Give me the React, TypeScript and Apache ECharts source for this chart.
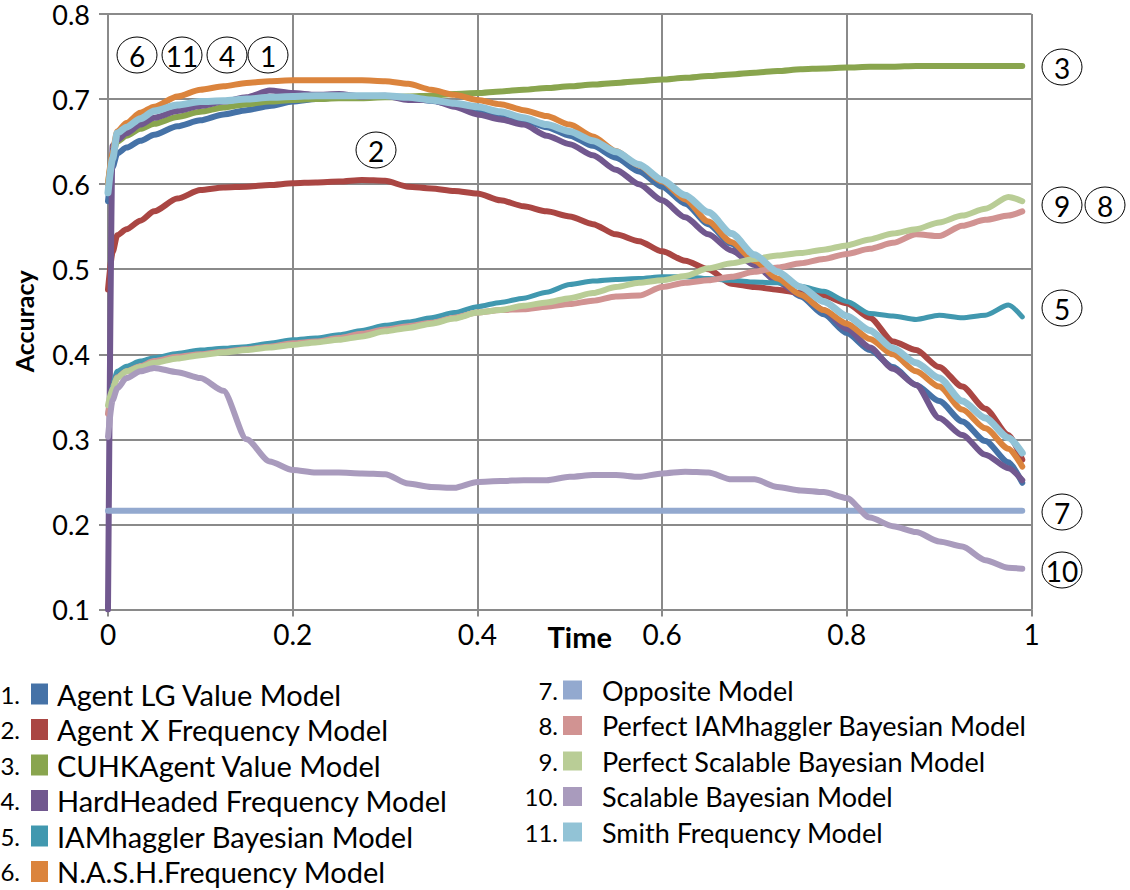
import React, { useEffect, useRef } from "react";
import * as echarts from "echarts";

// Time axis sample points (fraction of negotiation time)
const T = [0, 0.005, 0.01, 0.02, 0.035, 0.05, 0.075, 0.1, 0.125, 0.15, 0.175, 0.2, 0.225, 0.25, 0.275, 0.3, 0.325, 0.35, 0.375, 0.4, 0.425, 0.45, 0.475, 0.5, 0.525, 0.55, 0.575, 0.6, 0.625, 0.65, 0.675, 0.7, 0.725, 0.75, 0.775, 0.8, 0.825, 0.85, 0.875, 0.9, 0.925, 0.95, 0.975, 0.99];

const AGENT_LG = [0.58, 0.62, 0.636, 0.643, 0.651, 0.658, 0.668, 0.675, 0.682, 0.687, 0.692, 0.697, 0.7, 0.702, 0.703, 0.703, 0.701, 0.698, 0.693, 0.688, 0.682, 0.675, 0.667, 0.657, 0.645, 0.631, 0.615, 0.597, 0.577, 0.553, 0.53, 0.507, 0.487, 0.468, 0.447, 0.425, 0.405, 0.385, 0.364, 0.345, 0.321, 0.298, 0.273, 0.249];
const AGENT_X = [0.476, 0.52, 0.54, 0.547, 0.557, 0.568, 0.583, 0.593, 0.596, 0.597, 0.599, 0.601, 0.602, 0.603, 0.605, 0.604, 0.597, 0.595, 0.592, 0.589, 0.581, 0.574, 0.568, 0.562, 0.553, 0.541, 0.533, 0.521, 0.51, 0.5, 0.483, 0.479, 0.476, 0.472, 0.469, 0.46, 0.443, 0.415, 0.405, 0.385, 0.362, 0.336, 0.305, 0.276];
const CUHK = [0.6, 0.635, 0.65, 0.657, 0.665, 0.671, 0.679, 0.685, 0.69, 0.694, 0.697, 0.699, 0.7, 0.701, 0.701, 0.702, 0.703, 0.704, 0.706, 0.707, 0.709, 0.711, 0.713, 0.715, 0.717, 0.719, 0.721, 0.723, 0.725, 0.727, 0.729, 0.731, 0.733, 0.735, 0.736, 0.737, 0.738, 0.738, 0.739, 0.739, 0.739, 0.739, 0.739, 0.739];
const HARDHEADED = [0.1, 0.645, 0.652, 0.66, 0.67, 0.678, 0.686, 0.692, 0.697, 0.702, 0.71, 0.707, 0.705, 0.706, 0.703, 0.704, 0.699, 0.699, 0.691, 0.682, 0.676, 0.67, 0.657, 0.647, 0.634, 0.617, 0.6, 0.581, 0.561, 0.541, 0.522, 0.505, 0.485, 0.47, 0.452, 0.43, 0.408, 0.383, 0.364, 0.325, 0.305, 0.282, 0.266, 0.252];
const IAMHAGGLER = [0.33, 0.365, 0.38, 0.386, 0.392, 0.396, 0.401, 0.405, 0.407, 0.409, 0.413, 0.417, 0.419, 0.423, 0.428, 0.434, 0.438, 0.443, 0.449, 0.456, 0.461, 0.466, 0.473, 0.482, 0.486, 0.488, 0.489, 0.491, 0.491, 0.489, 0.487, 0.485, 0.484, 0.48, 0.474, 0.462, 0.448, 0.445, 0.441, 0.446, 0.443, 0.446, 0.458, 0.444];
const NASH = [0.6, 0.64, 0.662, 0.672, 0.684, 0.691, 0.703, 0.711, 0.715, 0.719, 0.721, 0.722, 0.722, 0.722, 0.722, 0.721, 0.718, 0.711, 0.705, 0.699, 0.694, 0.687, 0.68, 0.67, 0.656, 0.639, 0.622, 0.603, 0.582, 0.556, 0.532, 0.51, 0.489, 0.47, 0.452, 0.436, 0.418, 0.4, 0.38, 0.362, 0.335, 0.313, 0.289, 0.268];
const OPPOSITE_T = [0, 0.99];
const OPPOSITE = [0.216, 0.216];
const PERFECT_IAM = [0.33, 0.36, 0.373, 0.38, 0.386, 0.392, 0.397, 0.4, 0.403, 0.406, 0.409, 0.413, 0.415, 0.419, 0.424, 0.429, 0.433, 0.437, 0.443, 0.449, 0.452, 0.453, 0.456, 0.459, 0.463, 0.468, 0.469, 0.479, 0.484, 0.487, 0.491, 0.497, 0.502, 0.507, 0.512, 0.518, 0.524, 0.531, 0.541, 0.539, 0.551, 0.558, 0.563, 0.568];
const PERFECT_SCALABLE = [0.34, 0.36, 0.372, 0.38, 0.385, 0.39, 0.395, 0.399, 0.402, 0.405, 0.408, 0.411, 0.414, 0.417, 0.421, 0.427, 0.431, 0.436, 0.442, 0.449, 0.452, 0.457, 0.461, 0.466, 0.472, 0.479, 0.484, 0.487, 0.492, 0.501, 0.507, 0.512, 0.516, 0.519, 0.523, 0.528, 0.535, 0.542, 0.547, 0.555, 0.563, 0.571, 0.585, 0.58];
const SCALABLE = [0.303, 0.346, 0.36, 0.372, 0.38, 0.384, 0.379, 0.372, 0.357, 0.3, 0.274, 0.264, 0.261, 0.261, 0.26, 0.259, 0.248, 0.244, 0.243, 0.25, 0.251, 0.252, 0.252, 0.256, 0.258, 0.258, 0.256, 0.26, 0.262, 0.261, 0.253, 0.253, 0.244, 0.24, 0.238, 0.231, 0.208, 0.198, 0.191, 0.18, 0.174, 0.158, 0.149, 0.148];
const SMITH = [0.59, 0.63, 0.66, 0.667, 0.677, 0.686, 0.693, 0.697, 0.698, 0.7, 0.702, 0.703, 0.704, 0.704, 0.704, 0.704, 0.702, 0.699, 0.695, 0.691, 0.685, 0.678, 0.67, 0.662, 0.651, 0.638, 0.623, 0.605, 0.587, 0.567, 0.542, 0.517, 0.497, 0.479, 0.462, 0.445, 0.428, 0.407, 0.39, 0.372, 0.345, 0.325, 0.302, 0.284];

const NAMES = [
  "Agent LG Value Model",
  "Agent X Frequency Model",
  "CUHKAgent Value Model",
  "HardHeaded Frequency Model",
  "IAMhaggler Bayesian Model",
  "N.A.S.H.Frequency Model",
  "Opposite Model",
  "Perfect IAMhaggler Bayesian Model",
  "Perfect Scalable Bayesian Model",
  "Scalable Bayesian Model",
  "Smith Frequency Model",
];
const COLORS = ["#4572A7", "#AA4643", "#89A54E", "#71588F", "#4198AF", "#DB843D", "#93A9CF", "#D19392", "#B9CD96", "#A99BBD", "#92C3D6"];
const WIDTHS = [6, 6, 6, 6, 5, 6, 6, 6, 6, 6, 7];

const X_TICKS = [0, 0.2, 0.4, 0.6, 0.8, 1];

// circled annotation labels (number, pixel centre)
const CIRCLE_LABELS: [string, number, number][] = [
  ["6", 137, 55], ["11", 182, 55], ["4", 227, 55], ["1", 268, 55],
  ["2", 376, 150], ["3", 1062, 67], ["9", 1062, 205], ["8", 1105, 205],
  ["5", 1062, 308], ["7", 1062, 512], ["10", 1062, 570],
];

const FONT = "Lato, 'Open Sans', sans-serif";

export default function App() {
  const ref = useRef<HTMLDivElement>(null);
  useEffect(() => {
    const chart = echarts.init(ref.current!, null, { renderer: "svg" });
    const valueSets = [AGENT_LG, AGENT_X, CUHK, HARDHEADED, IAMHAGGLER, NASH, OPPOSITE, PERFECT_IAM, PERFECT_SCALABLE, SCALABLE, SMITH];
    const series = valueSets.map((vals, i) => {
      const ts = vals === OPPOSITE ? OPPOSITE_T : T;
      return {
        name: NAMES[i],
        type: "line",
        data: vals.map((v, j) => [ts[j], v]),
        showSymbol: false,
        symbol: "none",
        smooth: 0.25,
        smoothMonotone: "x",
        itemStyle: { color: COLORS[i] },
        lineStyle: { color: COLORS[i], width: WIDTHS[i], cap: "round", join: "round" },
        emphasis: { disabled: true },
      };
    });

    const gridColor = "#8a8a8a";
    const graphics: any[] = [];
    CIRCLE_LABELS.forEach(([txt, cx, cy]) => {
      graphics.push({ type: "ellipse", shape: { cx, cy, rx: 20, ry: 18 }, style: { fill: "#fff", stroke: "#000", lineWidth: 1 }, z: 100 });
      graphics.push({ type: "text", x: cx, y: cy + 1, style: { text: txt, align: "center", verticalAlign: "middle", font: `28px ${FONT}`, fill: "#000" }, z: 101 });
    });
    // legend numbering
    const leftRowY = [694, 729.5, 765, 800.5, 836, 871];
    const rightRowY = [690, 725.5, 761, 796.5, 832];
    leftRowY.forEach((y, i) => {
      graphics.push({ type: "text", x: 20, y, style: { text: `${i + 1}.`, align: "right", verticalAlign: "middle", font: `24px ${FONT}`, fill: "#000" } });
    });
    rightRowY.forEach((y, i) => {
      graphics.push({ type: "text", x: 558, y, style: { text: `${i + 7}.`, align: "right", verticalAlign: "middle", font: `24px ${FONT}`, fill: "#000" } });
    });

    const option: any = {
      animation: false,
      backgroundColor: "#fff",
      grid: { left: 108, top: 14, width: 923.5, height: 595.5, containLabel: false, outerBoundsMode: "none" },
      xAxis: {
        type: "value",
        min: 0,
        max: 1,
        interval: 0.2,
        name: "Time",
        nameLocation: "middle",
        nameGap: 12,
        nameMoveOverlap: false,
        nameTextStyle: { fontFamily: FONT, fontWeight: "bold", fontSize: 29, color: "#000", padding: [0, 0, 0, 20], verticalAlign: "top" },
        axisLine: { show: true, lineStyle: { color: gridColor, width: 2 } },
        axisTick: { show: true, length: 7, lineStyle: { color: gridColor, width: 2 } },
        axisLabel: { fontFamily: FONT, fontSize: 28, color: "#000", margin: 10, formatter: (v: number) => (X_TICKS.includes(Math.round(v * 10) / 10) ? String(Math.round(v * 10) / 10) : "") },
        splitLine: { show: true, lineStyle: { color: gridColor, width: 2 } },
      },
      yAxis: {
        type: "value",
        min: 0.1,
        max: 0.8,
        interval: 0.1,
        name: "Accuracy",
        nameLocation: "middle",
        nameGap: 72,
        nameRotate: 90,
        nameMoveOverlap: false,
        nameTextStyle: { fontFamily: FONT, fontWeight: "bold", fontSize: 25, color: "#000", padding: [0, 19, 0, 0] },
        axisLine: { show: true, lineStyle: { color: gridColor, width: 2 } },
        axisTick: { show: true, length: 9, lineStyle: { color: gridColor, width: 2 } },
        axisLabel: { fontFamily: FONT, fontSize: 27, color: "#000", margin: 18, lineHeight: 16, padding: [9, 0, 0, 0], formatter: (v: number) => (Math.round(v * 10) / 10).toFixed(1) },
        splitLine: { show: true, lineStyle: { color: gridColor, width: 2 } },
      },
      legend: [
        {
          data: NAMES.slice(0, 6),
          orient: "vertical",
          left: 31,
          top: 679,
          padding: 0,
          icon: "rect",
          itemWidth: 17,
          itemHeight: 21,
          itemGap: 5.5,
          selectedMode: false,
          textStyle: { fontFamily: FONT, fontSize: 29, color: "#000", lineHeight: 30, padding: [0, 0, 0, 4] },
        },
        {
          data: NAMES.slice(6),
          orient: "vertical",
          left: 563,
          top: 675,
          padding: 0,
          icon: "rect",
          itemWidth: 19,
          itemHeight: 19,
          itemGap: 5.5,
          selectedMode: false,
          textStyle: { fontFamily: FONT, fontSize: 27, color: "#000", lineHeight: 30, padding: [0, 0, 0, 15] },
        },
      ],
      graphic: graphics,
      series,
    };
    chart.setOption(option);
    return () => chart.dispose();
  }, []);
  return <div ref={ref} style={{ position: "fixed", left: 0, top: 0, width: 1130, height: 890, background: "#fff" }} />;
}
